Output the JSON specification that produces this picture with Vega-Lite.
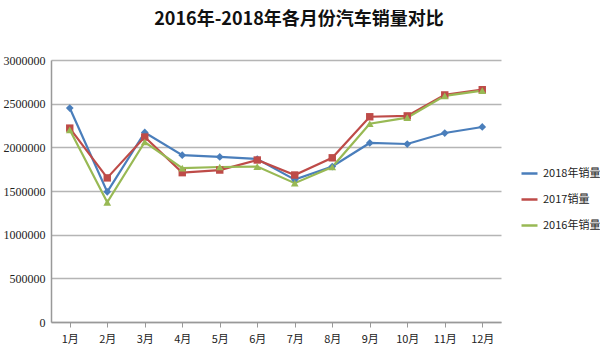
{
  "$schema": "https://vega.github.io/schema/vega-lite/v6.json",
  "width": 450,
  "height": 262,
  "autosize": "none",
  "padding": {"left": 51, "top": 60, "right": 99, "bottom": 38},
  "background": "white",
  "title": {
    "text": "2016年-2018年各月份汽车销量对比",
    "font": "Noto Sans CJK SC",
    "fontSize": 18,
    "fontWeight": "bold",
    "color": "#111111",
    "anchor": "middle",
    "frame": "group",
    "dx": 23,
    "offset": 25
  },
  "config": {
    "view": {"stroke": null},
    "font": "Liberation Sans Narrow"
  },
  "data": {
    "values": [
      {"month": "1月", "series": "2018年销量", "value": 2450000},
      {"month": "2月", "series": "2018年销量", "value": 1490000},
      {"month": "3月", "series": "2018年销量", "value": 2170000},
      {"month": "4月", "series": "2018年销量", "value": 1910000},
      {"month": "5月", "series": "2018年销量", "value": 1890000},
      {"month": "6月", "series": "2018年销量", "value": 1866000},
      {"month": "7月", "series": "2018年销量", "value": 1630000},
      {"month": "8月", "series": "2018年销量", "value": 1780000},
      {"month": "9月", "series": "2018年销量", "value": 2050000},
      {"month": "10月", "series": "2018年销量", "value": 2038000},
      {"month": "11月", "series": "2018年销量", "value": 2164000},
      {"month": "12月", "series": "2018年销量", "value": 2233000},
      {"month": "1月", "series": "2017销量", "value": 2220000},
      {"month": "2月", "series": "2017销量", "value": 1650000},
      {"month": "3月", "series": "2017销量", "value": 2118000},
      {"month": "4月", "series": "2017销量", "value": 1710000},
      {"month": "5月", "series": "2017销量", "value": 1740000},
      {"month": "6月", "series": "2017销量", "value": 1855000},
      {"month": "7月", "series": "2017销量", "value": 1683000},
      {"month": "8月", "series": "2017销量", "value": 1880000},
      {"month": "9月", "series": "2017销量", "value": 2350000},
      {"month": "10月", "series": "2017销量", "value": 2360000},
      {"month": "11月", "series": "2017销量", "value": 2600000},
      {"month": "12月", "series": "2017销量", "value": 2660000},
      {"month": "1月", "series": "2016年销量", "value": 2200000},
      {"month": "2月", "series": "2016年销量", "value": 1370000},
      {"month": "3月", "series": "2016年销量", "value": 2061000},
      {"month": "4月", "series": "2016年销量", "value": 1763000},
      {"month": "5月", "series": "2016年销量", "value": 1775000},
      {"month": "6月", "series": "2016年销量", "value": 1780000},
      {"month": "7月", "series": "2016年销量", "value": 1590000},
      {"month": "8月", "series": "2016年销量", "value": 1775000},
      {"month": "9月", "series": "2016年销量", "value": 2270000},
      {"month": "10月", "series": "2016年销量", "value": 2340000},
      {"month": "11月", "series": "2016年销量", "value": 2590000},
      {"month": "12月", "series": "2016年销量", "value": 2650000}
    ]
  },
  "encoding": {
    "x": {
      "field": "month",
      "type": "ordinal",
      "sort": ["1月","2月","3月","4月","5月","6月","7月","8月","9月","10月","11月","12月"],
      "scale": {"paddingInner": 0, "paddingOuter": 0},
      "axis": {
        "title": null,
        "labelAngle": 0,
        "bandPosition": 0,
        "labelFont": "Noto Sans CJK SC",
        "labelFontSize": 11,
        "labelColor": "#222222",
        "labelPadding": 6,
        "tickColor": "#999999",
        "tickSize": 5,
        "domainColor": "#999999",
        "domainWidth": 1.5,
        "grid": false
      }
    },
    "y": {
      "field": "value",
      "type": "quantitative",
      "scale": {"domain": [0, 3000000], "nice": false},
      "axis": {
        "title": null,
        "values": [0, 500000, 1000000, 1500000, 2000000, 2500000, 3000000],
        "format": "d",
        "labelFontSize": 12,
        "labelColor": "#222222",
        "labelPadding": 6,
        "ticks": false,
        "domainColor": "#999999",
        "domainWidth": 1.5,
        "gridColor": "#b5b5b5",
        "gridWidth": 1.5
      }
    }
  },
  "layer": [
    {
      "mark": {"type": "line", "strokeWidth": 2.2},
      "encoding": {
        "color": {
          "field": "series",
          "type": "nominal",
          "scale": {
            "domain": ["2018年销量", "2017销量", "2016年销量"],
            "range": ["#4a7ebb", "#be4b48", "#98b954"]
          },
          "legend": {
            "title": null,
            "orient": "none",
            "legendX": 469,
            "legendY": 104,
            "labelFont": "Noto Sans CJK SC",
            "labelFontSize": 11,
            "labelColor": "#222222",
            "rowPadding": 11,
            "symbolType": "stroke",
            "symbolSize": 256,
            "symbolStrokeWidth": 2.5
          }
        }
      }
    },
    {
      "transform": [{"filter": "datum.series == '2018年销量'"}],
      "mark": {"type": "point", "shape": "diamond", "filled": true, "fill": "#4a7ebb", "size": 60, "opacity": 1}
    },
    {
      "transform": [{"filter": "datum.series == '2017销量'"}],
      "mark": {"type": "point", "shape": "square", "filled": true, "fill": "#be4b48", "size": 55, "opacity": 1}
    },
    {
      "transform": [{"filter": "datum.series == '2016年销量'"}],
      "mark": {"type": "point", "shape": "triangle-up", "filled": true, "fill": "#98b954", "size": 60, "opacity": 1}
    }
  ]
}
